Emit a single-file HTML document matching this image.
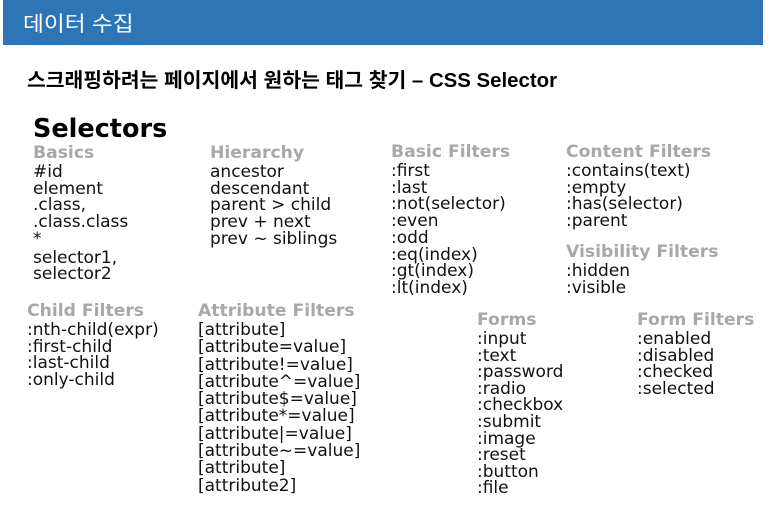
<!DOCTYPE html>
<html><head><meta charset="utf-8"><style>
body{margin:0;width:779px;height:516px;background:#fff;position:relative;overflow:hidden;font-family:"DejaVu Sans","Liberation Sans",sans-serif;}
.bar{position:absolute;left:3px;top:0;width:760px;height:45px;background:#2e75b6;}
.t1{position:absolute;left:23px;top:8px;color:#fff;font:21px "Liberation Sans","Noto Sans CJK KR",sans-serif;transform-origin:0 0;transform:scaleX(1.08);white-space:nowrap;}
.t2{position:absolute;left:27px;top:64px;color:#000;font:bold 20px "Liberation Sans","Noto Sans CJK KR",sans-serif;transform-origin:0 0;transform:scaleX(1.02);white-space:nowrap;}
.big{position:absolute;left:33px;top:114px;font:bold 25.5px "DejaVu Sans",sans-serif;color:#000;}
.c{position:absolute;white-space:nowrap;font-size:17px;line-height:16.7px;color:#111;}
.c b{display:block;color:#a8a8a8;font-size:17.2px;line-height:20px;margin-bottom:1px;}
</style></head><body>
<div class="bar"></div>
<div class="t1">데이터 수집</div>
<div class="t2">스크래핑하려는 페이지에서 원하는 태그 찾기 – CSS Selector</div>
<div class="big">Selectors</div>
<div class="c" style="left:33px;top:143px"><b>Basics</b>#id<br>element<br>.class,<br>.class.class<br>*<br><span style="display:block;margin-top:2px">selector1,<br>selector2</span></div>
<div class="c" style="left:210px;top:143px"><b>Hierarchy</b>ancestor<br>descendant<br>parent &gt; child<br>prev + next<br>prev ~ siblings</div>
<div class="c" style="left:391px;top:142px"><b>Basic Filters</b>:first<br>:last<br>:not(selector)<br>:even<br>:odd<br>:eq(index)<br>:gt(index)<br>:lt(index)</div>
<div class="c" style="left:566px;top:142px"><b>Content Filters</b>:contains(text)<br>:empty<br>:has(selector)<br>:parent</div>
<div class="c" style="left:566px;top:242px"><b>Visibility Filters</b>:hidden<br>:visible</div>
<div class="c" style="left:27px;top:301px"><b>Child Filters</b>:nth-child(expr)<br>:first-child<br>:last-child<br>:only-child</div>
<div class="c" style="left:198px;top:301px;line-height:17.3px"><b>Attribute Filters</b>[attribute]<br>[attribute=value]<br>[attribute!=value]<br>[attribute^=value]<br>[attribute$=value]<br>[attribute*=value]<br>[attribute|=value]<br>[attribute~=value]<br>[attribute]<br>[attribute2]</div>
<div class="c" style="left:477px;top:310px;line-height:16.6px"><b>Forms</b>:input<br>:text<br>:password<br>:radio<br>:checkbox<br>:submit<br>:image<br>:reset<br>:button<br>:file</div>
<div class="c" style="left:637px;top:310px;line-height:16.6px"><b>Form Filters</b>:enabled<br>:disabled<br>:checked<br>:selected</div>
</body></html>
